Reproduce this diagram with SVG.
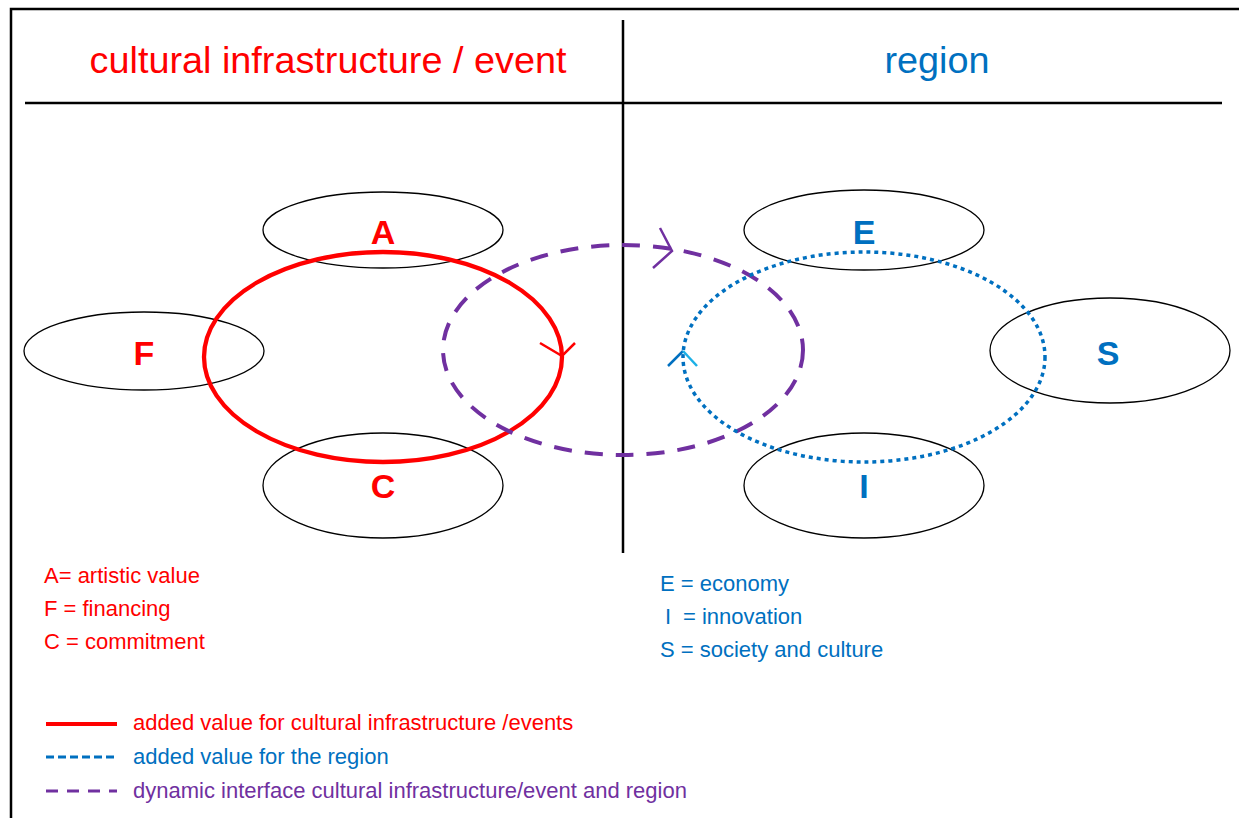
<svg xmlns="http://www.w3.org/2000/svg" width="1239" height="818" viewBox="0 0 1239 818">
<style>
.frame{stroke:#000;stroke-width:2.5;fill:none}
.node{fill:none;stroke:#000;stroke-width:1.3}
.lbl{font-family:"Liberation Sans",Arial,sans-serif;font-weight:bold;font-size:34px;text-anchor:middle}
.t{font-family:"Liberation Sans",Arial,sans-serif}
.red{fill:#ff0000}
.blue{fill:#0070c0}
.purple{fill:#7030a0}
</style>
<rect width="1239" height="818" fill="#fff"/>
<g id="frame">
<path class="frame" d="M11,818 V9 H1239"/>
<line class="frame" x1="25" y1="103" x2="1222" y2="103"/>
<line class="frame" x1="623" y1="20" x2="623" y2="553"/>
</g>
<text class="t red" x="328" y="73" font-size="37.8" text-anchor="middle">cultural infrastructure / event</text>
<text class="t blue" x="937" y="73" font-size="37.8" text-anchor="middle">region</text>
<g id="node-A"><ellipse class="node" cx="383" cy="230" rx="120" ry="38"/><text class="lbl red" x="383" y="244">A</text></g>
<g id="node-F"><ellipse class="node" cx="144" cy="351" rx="120" ry="39"/><text class="lbl red" x="144" y="365">F</text></g>
<g id="node-C"><ellipse class="node" cx="383" cy="485.5" rx="120" ry="52.5"/><text class="lbl red" x="383" y="498">C</text></g>
<g id="node-E"><ellipse class="node" cx="864" cy="230" rx="120" ry="40"/><text class="lbl blue" x="864" y="244">E</text></g>
<g id="node-S"><ellipse class="node" cx="1110" cy="350.5" rx="120" ry="52.5"/><text class="lbl blue" x="1108" y="365">S</text></g>
<g id="node-I"><ellipse class="node" cx="864" cy="485.5" rx="120" ry="52.5"/><text class="lbl blue" x="864" y="498">I</text></g>
<g id="connectors" fill="none">
<ellipse cx="383" cy="357" rx="179" ry="105" stroke="#ff0000" stroke-width="4.3"/>
<polyline points="540,343 562,356 575,343" stroke="#ff0000" stroke-width="2.5"/>
<ellipse cx="623" cy="350" rx="180" ry="105" stroke="#7030a0" stroke-width="4" stroke-dasharray="18,13"/>
<polyline points="660,228 672,251 653,268" stroke="#7030a0" stroke-width="2.5"/>
<ellipse cx="864" cy="357" rx="181" ry="105" stroke="#0070c0" stroke-width="3.5" stroke-dasharray="4,4"/>
<line x1="668" y1="366" x2="683" y2="351" stroke="#0070c0" stroke-width="2.5"/>
<line x1="683" y1="351" x2="697" y2="366" stroke="#1cb0e6" stroke-width="2.5"/>
</g>
<g class="t" font-size="22">
<text class="red" x="44" y="583">A= artistic value</text>
<text class="red" x="44" y="616">F = financing</text>
<text class="red" x="44" y="649">C = commitment</text>
<text class="blue" x="660" y="591">E = economy</text>
<text class="blue" y="624"><tspan x="665">I</tspan><tspan x="683">= innovation</tspan></text>
<text class="blue" x="660" y="657">S = society and culture</text>
</g>
<g id="legend">
<line x1="46" y1="724" x2="117" y2="724" stroke="#ff0000" stroke-width="4"/>
<line x1="46" y1="757" x2="117" y2="757" stroke="#0070c0" stroke-width="3" stroke-dasharray="8,4"/>
<line x1="46" y1="791" x2="117" y2="791" stroke="#7030a0" stroke-width="3" stroke-dasharray="12,9"/>
<text class="t red" x="133" y="730" font-size="22">added value for cultural infrastructure /events</text>
<text class="t blue" x="133" y="764" font-size="22">added value for the region</text>
<text class="t purple" x="133" y="798" font-size="22">dynamic interface cultural infrastructure/event and region</text>
</g>
</svg>
